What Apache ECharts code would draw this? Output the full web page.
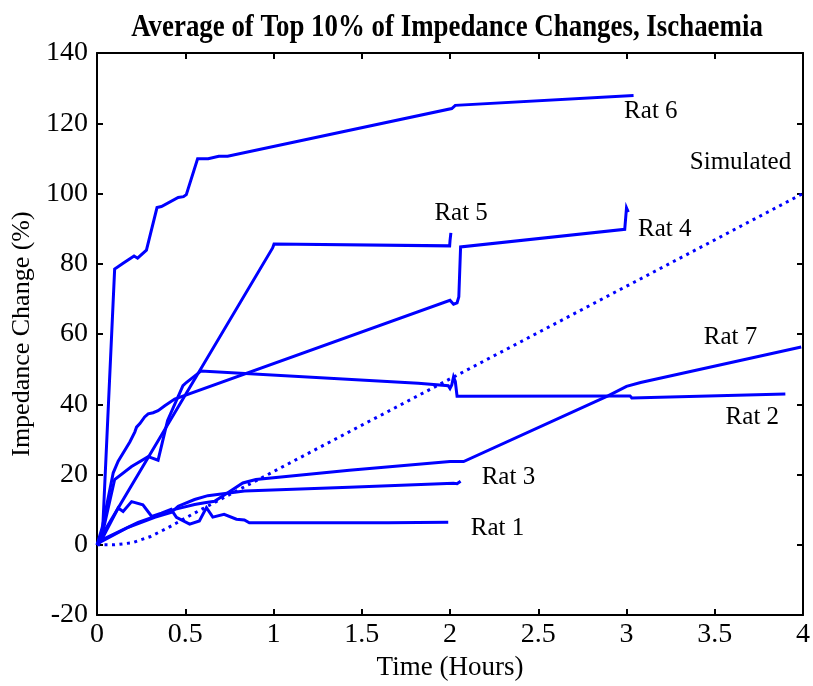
<!DOCTYPE html>
<html>
<head>
<meta charset="utf-8">
<script src="https://cdn.jsdelivr.net/npm/echarts@6/dist/echarts.min.js"></script>
<style>
  html, body { margin: 0; padding: 0; background: #fff; }
  #chart { width: 813px; height: 686px; }
</style>
</head>
<body>
<div id="chart"></div>
<script>
// ---- Data (Time in hours, Impedance change in %) ----
var rat1 = [[0,0],[0.026,1.4],[0.12,10.5],[0.148,9.5],[0.196,12.3],[0.26,11.4],[0.31,8.1],[0.365,9.0],[0.42,10.1],[0.45,7.8],[0.525,5.9],[0.58,6.8],[0.62,10.6],[0.656,7.9],[0.72,8.7],[0.79,7.3],[0.835,7.1],[0.863,6.3],[1.65,6.3],[1.99,6.4]];
var rat2 = [[0,0],[0.03,3],[0.10,18.6],[0.196,22.3],[0.29,25.1],[0.346,24.1],[0.40,35.4],[0.487,45.3],[0.506,46.2],[0.59,49.5],[1.82,46.0],[1.99,45.3],[2.0,44.5],[2.01,45.5],[2.02,47.8],[2.03,46.5],[2.04,42.3],[2.045,42.0],[3.0,42.4],[3.02,42.4],[3.03,41.8],[3.9,42.9]];
var rat3 = [[0,0],[0.026,1.0],[0.177,5.0],[0.327,7.8],[0.42,9.2],[0.46,11.0],[0.553,12.9],[0.628,14.0],[0.835,15.3],[1.43,16.4],[2.02,17.5],[2.04,17.4],[2.06,18.1]];
var rat4 = [[0,0],[0.03,5],[0.092,20.5],[0.12,23.8],[0.186,29.3],[0.214,32.1],[0.224,33.5],[0.243,34.5],[0.27,36.4],[0.29,37.3],[0.318,37.6],[0.346,38.2],[0.384,39.6],[0.44,41.5],[2.0,69.6],[2.02,68.5],[2.04,68.9],[2.05,70.6],[2.06,84.8],[2.99,89.8],[3.0,95.9],[3.01,94.7]];
var rat5 = [[0,0],[0.02,2],[0.995,84.5],[1.003,85.6],[1.998,85.1],[2.0,86.5],[2.005,88.8]];
var rat6 = [[0,0],[0.03,2],[0.10,78.5],[0.15,80.2],[0.21,82.2],[0.23,81.6],[0.28,83.9],[0.34,96.0],[0.365,96.3],[0.46,98.9],[0.49,99.1],[0.506,99.7],[0.57,109.9],[0.63,109.9],[0.69,110.6],[0.74,110.6],[2.01,124.2],[2.03,125.1],[3.04,127.9]];
var rat7 = [[0,0],[0.026,1.35],[0.233,6.4],[0.365,8.7],[0.44,10.1],[0.553,11.5],[0.61,12.0],[0.666,12.4],[0.75,15.1],[0.826,17.6],[0.90,18.6],[1.43,21.2],[2.0,23.7],[2.077,23.7],[2.895,42.4],[3.0,45.1],[3.08,46.2],[3.99,56.3]];
var simulated = [[0,0],[0.1,0],[0.2,0.6],[0.3,2.3],[0.4,4.8],[0.5,7.6],[0.6,10.3],[4,100]];

var seriesNames = ['Rat 1','Rat 2','Rat 3','Rat 4','Rat 5','Rat 6','Rat 7','Simulated'];
var labelNames = ['Rat 6','Simulated','Rat 5','Rat 4','Rat 7','Rat 2','Rat 3','Rat 1'];
var labelX = [3.138, 3.646, 2.063, 3.217, 3.589, 3.713, 2.331, 2.269];
var labelY = [123.3, 108.8, 94.2, 89.7, 59.0, 36.3, 19.3, 4.8];

var titleText = 'Average of Top 10% of Impedance Changes, Ischaemia';
var xName = 'Time (Hours)';
var yName = 'Impedance Change (%)';

// ---- Chart ----
var FONT = "'Liberation Serif', 'Times New Roman', serif";
var BLUE = '#0000ff';
var chart = echarts.init(document.getElementById('chart'), null, {renderer: 'canvas'});

var lines = [rat1, rat2, rat3, rat4, rat5, rat6, rat7, simulated];
var series = lines.map(function (d, i) {
  var isSim = seriesNames[i] === 'Simulated';
  return {
    name: seriesNames[i],
    type: 'line',
    data: d,
    showSymbol: false,
    symbol: 'none',
    xAxisIndex: 0, yAxisIndex: 0,
    lineStyle: { color: BLUE, width: 3, type: isSim ? [3, 4.5] : 'solid', cap: 'butt', join: 'miter' },
    silent: true,
    z: 2
  };
});
series.push({
  type: 'scatter',
  name: 'labels',
  data: labelNames.map(function (n, i) { return [labelX[i], labelY[i], n]; }),
  symbolSize: 0,
  silent: true,
  itemStyle: { opacity: 1 },
  label: {
    show: true, position: 'inside', formatter: function (p) { return p.data[2]; },
    color: '#000000', opacity: 1, textBorderWidth: 0, fontFamily: FONT, fontSize: 25
  },
  z: 3
});

var axisCommonX = { type: 'value', min: 0, max: 4, interval: 0.5,
  axisLine: { show: true, onZero: false, lineStyle: { color: '#000', width: 2 } },
  axisTick: { show: true, inside: true, length: 6, lineStyle: { color: '#000', width: 2 } },
  splitLine: { show: false } };
var axisCommonY = { type: 'value', min: -20, max: 140, interval: 20,
  axisLine: { show: true, onZero: false, lineStyle: { color: '#000', width: 2 } },
  axisTick: { show: true, inside: true, length: 6, lineStyle: { color: '#000', width: 2 } },
  splitLine: { show: false } };

var option = {
  animation: false,
  backgroundColor: '#fff',
  grid: { left: 97, right: 7, top: 53, bottom: 64, containLabel: false },
  xAxis: [
    Object.assign({}, axisCommonX, { position: 'bottom', name: xName, nameLocation: 'middle', nameGap: 38,
      nameTextStyle: { color: '#000', fontFamily: FONT, fontSize: 27 },
      axisLabel: { show: true, color: '#000', fontFamily: FONT, fontSize: 28, margin: 6 } }),
    Object.assign({}, axisCommonX, { position: 'top', axisLabel: { show: false } })
  ],
  yAxis: [
    Object.assign({}, axisCommonY, { position: 'left', name: yName, nameLocation: 'middle', nameGap: 58,
      nameTextStyle: { color: '#000', fontFamily: FONT, fontSize: 26 },
      axisLabel: { show: true, color: '#000', fontFamily: FONT, fontSize: 28, margin: 9 } }),
    Object.assign({}, axisCommonY, { position: 'right', axisLabel: { show: false } })
  ],
  graphic: [{
    type: 'text', x: 447, y: 28, scaleX: 0.84,
    style: { text: titleText, textAlign: 'center', textVerticalAlign: 'middle',
      font: "bold 32px 'Liberation Serif', 'Times New Roman', serif", fill: '#000' }
  }],
  series: series
};
chart.setOption(option);
</script>
</body>
</html>
